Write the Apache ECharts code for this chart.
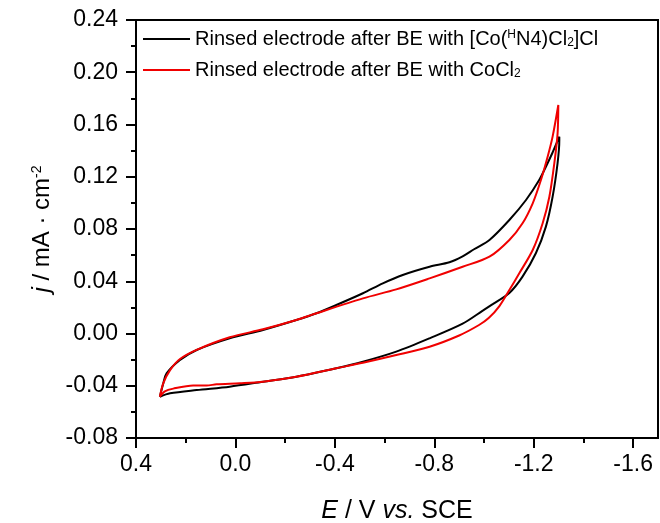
<!DOCTYPE html>
<html>
<head>
<meta charset="utf-8">
<script src="https://cdn.jsdelivr.net/npm/echarts@6/dist/echarts.min.js"></script>
<style>
  html, body { margin: 0; padding: 0; background: #fff; }
  #cv { width: 660px; height: 523px; }
</style>
</head>
<body>
<div id="cv"></div>
<script>
// potential (V vs SCE), current density (mA/cm2)
var blackE = [0.304, 0.290, 0.277, 0.223, 0.156, 0.023, -0.111, -0.245, -0.326, -0.406, -0.513, -0.593, -0.673, -0.781, -0.861, -0.914, -0.960, -1.022, -1.102, -1.169, -1.222, -1.249, -1.275, -1.303,
              -1.303, -1.296, -1.276, -1.249, -1.209, -1.155, -1.102, -1.035, -0.995, -0.914, -0.781, -0.647, -0.513, -0.406, -0.245, -0.111, 0.023, 0.156, 0.263, 0.304];
var blackJ = [-0.0484, -0.038, -0.0305, -0.0203, -0.0126, -0.0037, 0.0027, 0.0103, 0.0155, 0.0218, 0.0308, 0.0384, 0.0448, 0.0511, 0.0545, 0.0590, 0.0645, 0.0716, 0.0869, 0.1022, 0.1175, 0.1277, 0.1382, 0.1507,
              0.148, 0.1305, 0.1047, 0.0818, 0.0616, 0.0435, 0.031, 0.0225, 0.0175, 0.0075, -0.0037, -0.0139, -0.0216, -0.0266, -0.0331, -0.0369, -0.0407, -0.0433, -0.0458, -0.0484];

var redE = [0.304, 0.290, 0.263, 0.223, 0.156, 0.023, -0.111, -0.245, -0.326, -0.513, -0.647, -0.781, -0.914, -1.022, -1.102, -1.155, -1.196, -1.229, -1.256, -1.276, -1.299,
            -1.296, -1.283, -1.263, -1.236, -1.196, -1.142, -1.102, -1.062, -1.020, -0.980, -0.900, -0.781, -0.647, -0.513, -0.406, -0.245, -0.111, -0.018, 0.076, 0.116, 0.170, 0.250, 0.284, 0.304];
var redJ = [-0.0484, -0.038, -0.028, -0.0195, -0.0125, -0.0029, 0.0032, 0.0103, 0.0155, 0.0269, 0.0338, 0.0422, 0.0511, 0.0588, 0.0716, 0.0844, 0.0997, 0.1175, 0.1353, 0.1507, 0.1749,
            0.153, 0.1305, 0.1047, 0.0844, 0.0639, 0.0461, 0.0333, 0.021, 0.012, 0.0065, -0.0015, -0.0101, -0.0165, -0.0224, -0.0266, -0.0331, -0.0369, -0.0381, -0.0389, -0.0398, -0.0398, -0.0422, -0.0443, -0.0484];

var xMajor = [0.4, 0.0, -0.4, -0.8, -1.2, -1.6];
var xMinor = [0.2, -0.2, -0.6, -1.0, -1.4];
var seriesNames = ['Rinsed electrode after BE with [Co(HN4)Cl2]Cl', 'Rinsed electrode after BE with CoCl2'];

function pairs(xs, ys) {
  var out = [];
  for (var i = 0; i < xs.length; i++) out.push([xs[i], ys[i]]);
  return out;
}

var myChart = echarts.init(document.getElementById('cv'));
var fnt = 'Liberation Sans, Arial, sans-serif';

var option = {
  animation: false,
  grid: {
    left: 136, right: 2, top: 20, bottom: 85,
    outerBoundsMode: 'none',
    show: true, borderColor: '#000', borderWidth: 2
  },
  legend: {
    orient: 'vertical',
    left: 143, top: 29, padding: 0,
    icon: 'rect',
    itemWidth: 47, itemHeight: 2, itemGap: 11,
    data: seriesNames,
    textStyle: {
      fontFamily: fnt, fontSize: 20, color: '#000',
      rich: {
        a: { fontFamily: fnt, fontSize: 20, color: '#000' },
        sup: { fontFamily: fnt, fontSize: 12, color: '#000', verticalAlign: 'top', padding: [0, 0, 8, 0] },
        sub: { fontFamily: fnt, fontSize: 12, color: '#000', verticalAlign: 'bottom', padding: [8, 0, 0, 0] }
      }
    },
    formatter: function (name) {
      if (name === seriesNames[0]) {
        return '{a|Rinsed electrode after BE with [Co(}{sup|H}{a|N4)Cl}{sub|2}{a|]Cl}';
      }
      return '{a|Rinsed electrode after BE with CoCl}{sub|2}';
    }
  },
  xAxis: [
    {
      type: 'value', inverse: true, min: -1.7, max: 0.4,
      name: '{i|E} / V {i|vs.} SCE',
      nameLocation: 'middle', nameGap: 61,
      nameTextStyle: {
        fontFamily: fnt, fontSize: 25, color: '#000',
        rich: { i: { fontFamily: fnt, fontSize: 25, fontStyle: 'italic', color: '#000' } }
      },
      splitLine: { show: false },
      axisLine: { onZero: false, lineStyle: { color: '#000', width: 2 } },
      axisTick: { show: true, inside: false, length: 10, customValues: xMajor, lineStyle: { color: '#000', width: 2 } },
      axisLabel: {
        customValues: xMajor, margin: 15, color: '#000', fontFamily: fnt, fontSize: 23,
        formatter: function (v) { return v.toFixed(1); }
      }
    },
    {
      // minor ticks only
      type: 'value', inverse: true, min: -1.7, max: 0.4, position: 'bottom',
      splitLine: { show: false },
      axisLine: { show: false, onZero: false },
      axisTick: { show: true, length: 5, customValues: xMinor, lineStyle: { color: '#000', width: 2 } },
      axisLabel: { show: false }
    }
  ],
  yAxis: {
    type: 'value', min: -0.08, max: 0.24, interval: 0.04,
    name: '{i|j} / mA · cm{sup|-2}',
    nameLocation: 'middle', nameGap: 82,
    nameTextStyle: {
      fontFamily: fnt, fontSize: 24, color: '#000',
      rich: {
        i: { fontFamily: fnt, fontSize: 24, fontStyle: 'italic', color: '#000' },
        sup: { fontFamily: fnt, fontSize: 14, color: '#000', verticalAlign: 'top', padding: [0, 0, 10, 0] }
      }
    },
    splitLine: { show: false },
    axisLine: { onZero: false, lineStyle: { color: '#000', width: 2 } },
    axisTick: { show: true, length: 10, lineStyle: { color: '#000', width: 2 } },
    minorTick: { show: true, splitNumber: 2, length: 5, lineStyle: { color: '#000', width: 2 } },
    axisLabel: {
      margin: 18, color: '#000', fontFamily: fnt, fontSize: 23,
      formatter: function (v) { return v.toFixed(2); }
    }
  },
  series: [
    {
      name: seriesNames[0], type: 'line', data: pairs(blackE, blackJ),
      symbol: 'none', smooth: 0.3, color: '#000',
      lineStyle: { color: '#000', width: 2 }
    },
    {
      name: seriesNames[1], type: 'line', data: pairs(redE, redJ),
      symbol: 'none', smooth: 0.3, color: '#f00000',
      lineStyle: { color: '#f00000', width: 2 }
    }
  ]
};

myChart.setOption(option);
</script>
</body>
</html>
